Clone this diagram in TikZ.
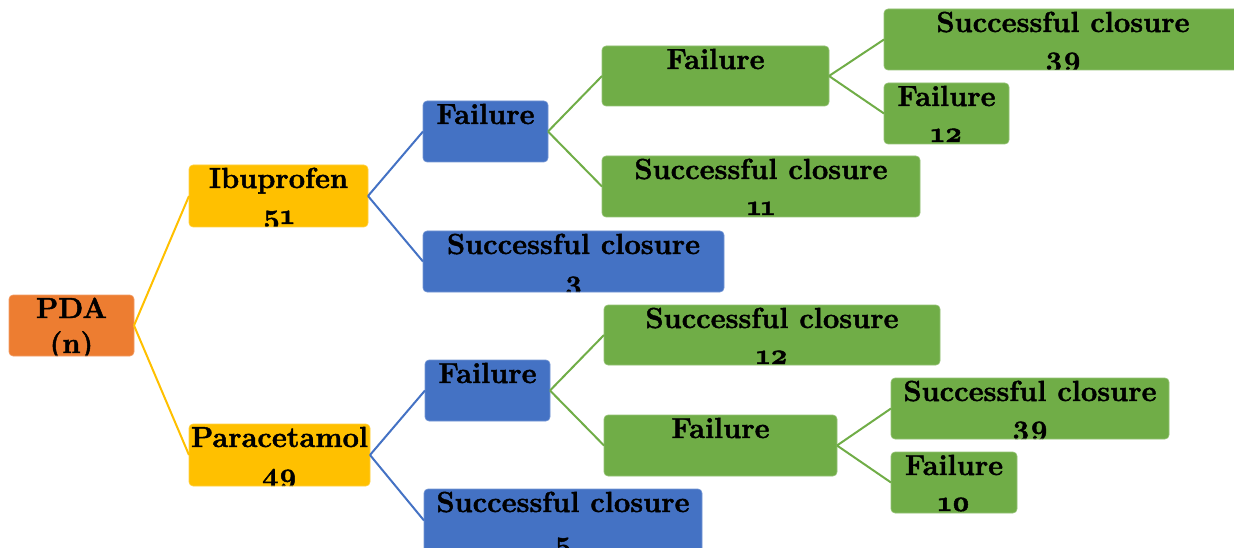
\documentclass[tikz,border=0pt]{standalone}
\usepackage{fontspec}
\setmainfont{Latin Modern Roman}[Numbers=OldStyle, BoldFeatures={FakeBold=1.6}]
\definecolor{corange}{HTML}{ED7D31}
\definecolor{cyellow}{HTML}{FFC000}
\definecolor{cblue}{HTML}{4472C4}
\definecolor{cgreen}{HTML}{70AD47}
\tikzset{
  box/.style={rectangle, rounded corners=4pt, inner sep=0pt, outer sep=0pt},
  txt/.style={anchor=base, inner sep=0pt, font=\bfseries\fontsize{29}{34}\selectfont, text=black},
  link/.style={line width=2pt},
}
% \bx[second-line offset]{name}{x1}{y1}{x2}{y2}{colour}{line 1}{line 2}
\newcommand\bx[9][59]{%
  \node[box, fill=#7, draw=#7!75!white, line width=0.6pt,
        minimum width={#5-#3}, minimum height={#6-#4},
        path picture={%
          \node[txt] at ([yshift=-23pt]path picture bounding box.north) {#8};
          \node[txt] at ([yshift=-#1pt]path picture bounding box.north) {#9};
        }] (#2) at ({(#3+#5)/2},{(#4+#6)/2}) {};}
\begin{document}
\begin{tikzpicture}[x=1pt,y=-1pt]
\useasboundingbox (0,0) rectangle (1234,548);
\clip (0,0) rectangle (1234,548);
% nodes
\bx[58]{pda}{9}{295}{134}{356}{corange}{PDA}{(n)}
\bx{ibu}{189}{165}{368}{227}{cyellow}{Ibuprofen}{51}
\bx{para}{189}{424}{370}{486}{cyellow}{Paracetamol}{49}
\bx{ifail}{423}{101}{548}{162}{cblue}{Failure}{}
\bx{isucc}{423}{231}{724}{292}{cblue}{Successful closure}{3}
\bx[62]{psucc}{424}{489}{702}{552}{cblue}{Successful closure}{5}
\bx{pfail}{425}{360}{550}{421}{cblue}{Failure}{}
\bx{iffail}{602}{46}{829}{106}{cgreen}{Failure}{}
\bx{ifsucc}{602}{156}{920}{217}{cgreen}{Successful closure}{11}
\bx[57]{iffsucc}{884}{9}{1242}{70}{cgreen}{Successful closure}{39}
\bx{ifffail}{884}{83}{1009}{144}{cgreen}{Failure}{12}
\bx{pfsucc}{604}{305}{940}{365}{cgreen}{Successful closure}{12}
\bx{pffail}{604}{415}{837}{476}{cgreen}{Failure}{}
\bx[57]{pffsucc}{891}{378}{1169}{439}{cgreen}{Successful closure}{39}
\bx{pfffail}{891}{452}{1017}{513}{cgreen}{Failure}{10}
% connectors
\draw[link, cyellow] (pda.east) -- (ibu.west);
\draw[link, cyellow] (pda.east) -- (para.west);
\draw[link, cblue] (ibu.east) -- (ifail.west);
\draw[link, cblue] (ibu.east) -- (isucc.west);
\draw[link, cblue] (para.east) -- (pfail.west);
\draw[link, cblue] (para.east) -- (psucc.west);
\draw[link, cgreen] (ifail.east) -- (iffail.west);
\draw[link, cgreen] (ifail.east) -- (ifsucc.west);
\draw[link, cgreen] (iffail.east) -- (iffsucc.west);
\draw[link, cgreen] (iffail.east) -- (ifffail.west);
\draw[link, cgreen] (pfail.east) -- (pfsucc.west);
\draw[link, cgreen] (pfail.east) -- (pffail.west);
\draw[link, cgreen] (pffail.east) -- (pffsucc.west);
\draw[link, cgreen] (pffail.east) -- (pfffail.west);
\end{tikzpicture}
\end{document}
